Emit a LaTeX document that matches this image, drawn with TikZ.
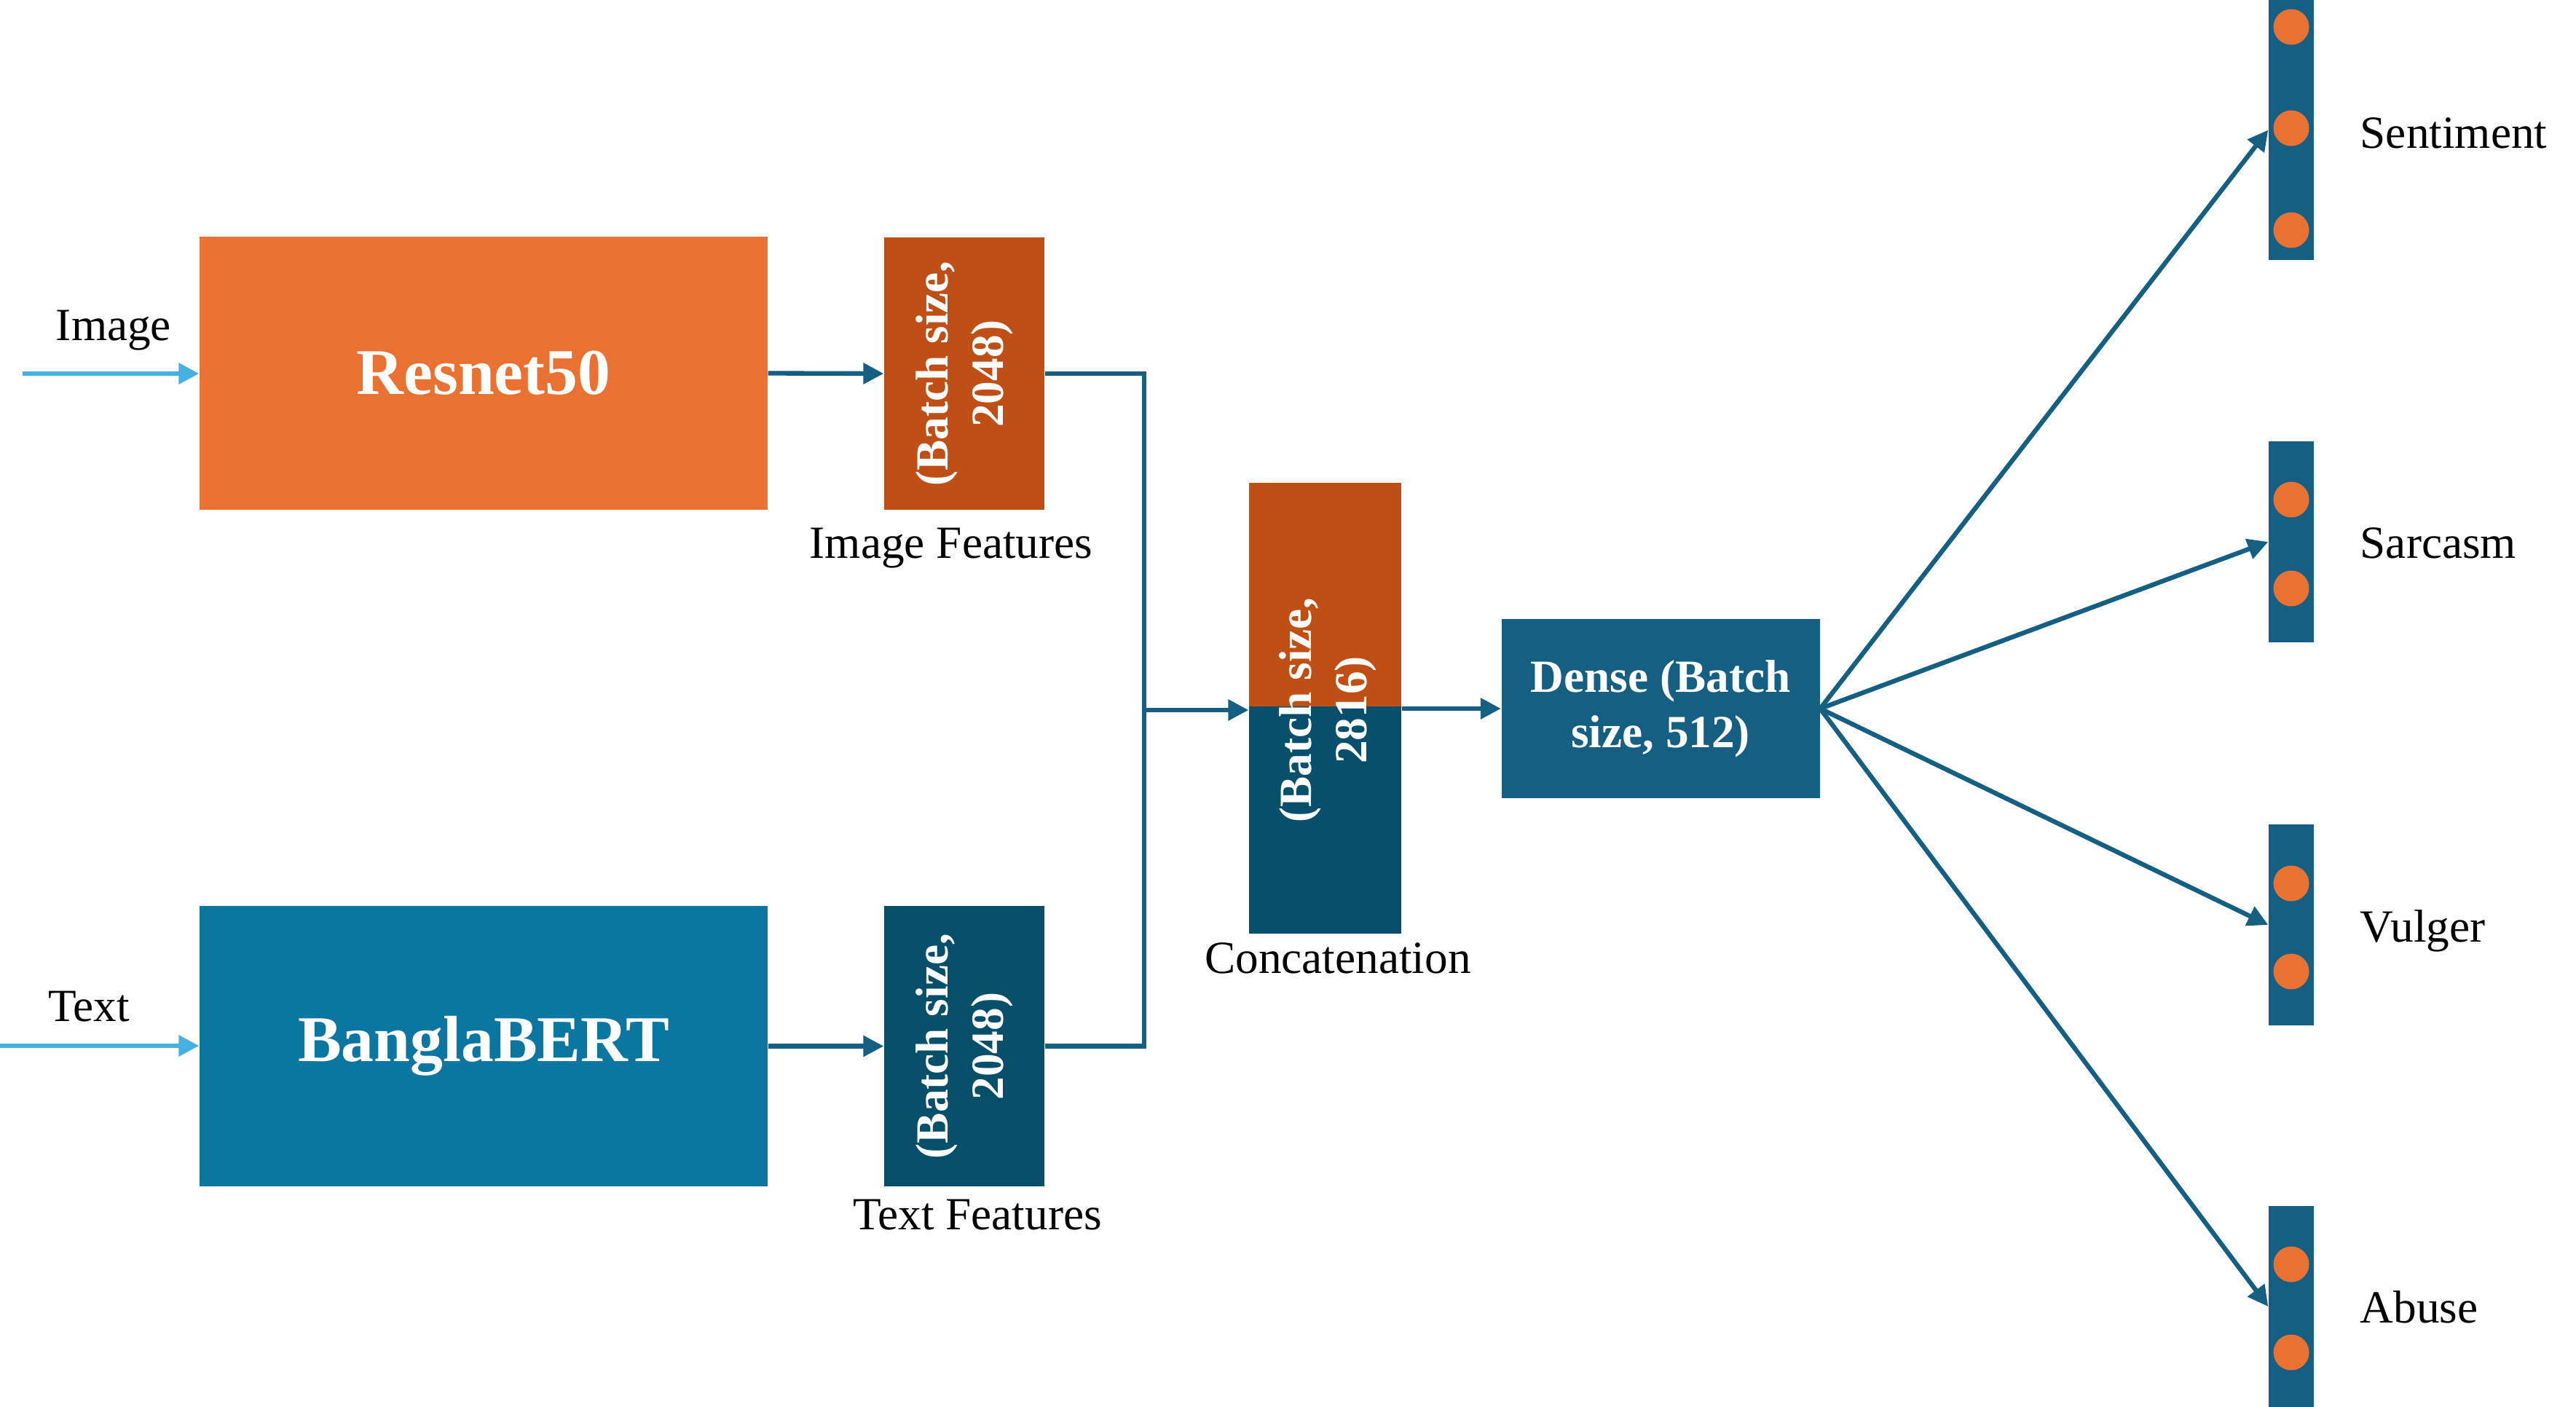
\documentclass[tikz,border=0pt]{standalone}
\usepackage{fontspec}
\setmainfont{Liberation Serif}
\usetikzlibrary{arrows.meta}
\definecolor{resorange}{RGB}{233,113,50}
\definecolor{featorange}{RGB}{192,79,21}
\definecolor{bertblue}{RGB}{11,118,160}
\definecolor{featblue}{RGB}{7,79,107}
\definecolor{denseblue}{RGB}{21,96,130}
\definecolor{inblue}{RGB}{70,177,225}

\begin{document}
\begin{tikzpicture}[
  blk/.style={rectangle, inner sep=0pt, text=white, align=center, font=\bfseries\fontsize{18}{21.6}\selectfont},
  bigblk/.style={blk, font=\bfseries\fontsize{25.5}{30}\selectfont},
  line/.style={draw=denseblue, line width=1.8pt},
  arr/.style={line, -{Triangle[length=2.8mm, width=2.8mm]}},
  inarr/.style={arr, draw=inblue},
  outbar/.style={rectangle, inner sep=0pt, fill=denseblue, minimum width=0.62cm},
  dot/.style={fill=resorange},
  lbl/.style={inner sep=0pt, font=\fontsize{18}{21.6}\selectfont}
]
\useasboundingbox (0,0) rectangle (35.37,-19.31);

% Encoders
\node[bigblk, fill=resorange, minimum width=7.8cm, minimum height=3.75cm] (resnet) at (6.64,-5.125) {\raisebox{-0.05cm}{Resnet50}};
\node[bigblk, fill=bertblue, minimum width=7.8cm, minimum height=3.85cm] (bert) at (6.64,-14.365) {\raisebox{-0.11cm}{BanglaBERT}};

% Inputs
\coordinate (imgin) at (0.31,-5.13);
\coordinate (txtin) at (0,-14.36);
\draw[inarr] (imgin) -- (imgin -| resnet.west);
\draw[inarr] (txtin) -- (txtin -| bert.west);
\node[lbl, anchor=base] (imglbl) at (1.56,-4.675) {Image};
\node[lbl, anchor=base] (txtlbl) at (1.22,-14.02) {Text};

% Feature vectors
\node[blk, fill=featorange, minimum width=2.2cm, minimum height=3.74cm] (imgfeat) at (13.24,-5.13)
  {\rotatebox{90}{\begin{tabular}{@{}c@{}}(Batch size,\\2048)\end{tabular}}};
\node[blk, fill=featblue, minimum width=2.2cm, minimum height=3.85cm] (txtfeat) at (13.24,-14.365)
  {\rotatebox{90}{\begin{tabular}{@{}c@{}}(Batch size,\\2048)\end{tabular}}};
\node[lbl, anchor=base] (imgfeatlbl) at (13.06,-7.66) {Image Features};
\node[lbl, anchor=base] (txtfeatlbl) at (13.42,-16.88) {Text Features};

\draw[arr] (resnet.east) -- (imgfeat.west);
\draw[arr] (bert.east) -- (txtfeat.west);

% Concatenation
\node[rectangle, inner sep=0pt, fill=featorange, minimum width=2.09cm, minimum height=3.07cm] (concattop) at (18.195,-8.165) {};
\node[rectangle, inner sep=0pt, fill=featblue, minimum width=2.09cm, minimum height=3.12cm] (concatbot) at (18.195,-11.26) {};
\node[blk] (concat) at (18.23,-9.75)
  {\rotatebox{90}{\begin{tabular}{@{}c@{}}(Batch size,\\2816)\end{tabular}}};
\node[lbl, anchor=base] (concatlbl) at (18.37,-13.36) {Concatenation};

\coordinate (join) at (15.71,-9.75);
\draw[line] (imgfeat.east) -| (join);
\draw[line] (txtfeat.east) -| (join);
\draw[arr] (join) -- (join -| concatbot.west);

% Dense layer
\node[blk, fill=denseblue, minimum width=4.37cm, minimum height=2.46cm] (dense) at (22.80,-9.73) {\raisebox{-0.09cm}{\begin{tabular}{@{}c@{}}Dense (Batch\\size, 512)\end{tabular}}};
\draw[arr] (dense.west -| concatbot.east) -- (dense.west);

% Output heads
\node[outbar, minimum height=3.57cm] (sent) at (31.46,-1.785) {};
\node[outbar, minimum height=2.76cm] (sarc) at (31.46,-7.44) {};
\node[outbar, minimum height=2.76cm] (vulg) at (31.46,-12.70) {};
\node[outbar, minimum height=2.76cm] (abus) at (31.46,-17.94) {};
\foreach \y in {-0.37,-1.76,-3.16,-6.86,-8.08,-12.13,-13.34,-17.36,-18.57}
  \fill[dot] (31.46,\y) circle (0.245);

\foreach \o in {sent,sarc,vulg,abus}
  \draw[arr] (dense.east) -- (\o.west);

\node[lbl, anchor=base west] (sentlbl) at (32.40,-2.03) {Sentiment};
\node[lbl, anchor=base west] (sarclbl) at (32.40,-7.66) {Sarcasm};
\node[lbl, anchor=base west] (vulglbl) at (32.40,-12.93) {Vulger};
\node[lbl, anchor=base west] (abuslbl) at (32.40,-18.16) {Abuse};
\end{tikzpicture}
\end{document}
